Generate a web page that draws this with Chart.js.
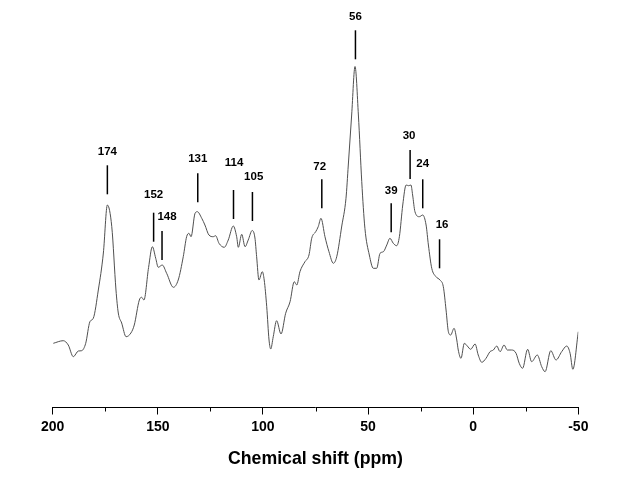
<!DOCTYPE html>
<html>
<head>
<meta charset="utf-8">
<title>Chemical shift spectrum</title>
<script src="https://cdn.jsdelivr.net/npm/chart.js@4/dist/chart.umd.min.js"></script>
<style>
  html, body { margin: 0; padding: 0; background: #fff; }
  #wrap { width: 640px; height: 480px; }
</style>
</head>
<body>
<div id="wrap"><canvas id="spectrum" width="640" height="480"></canvas></div>
<script>
// Spectrum trace: chemical shift (ppm) and intensity (arbitrary units)
const shiftPpm = [
  199.7, 195.0, 192.6, 190.2, 187.8, 186.2, 184.3, 182.3, 180.7, 178.3,
  175.9, 174.0, 171.9, 169.9, 168.8, 167.2, 165.1, 162.8, 161.2, 158.8,
  157.7, 156.6, 154.4, 152.6, 151.0, 149.8, 147.9, 145.8, 142.6, 140.3,
  137.9, 136.3, 135.2, 134.2, 132.3, 131.2, 129.1, 127.6, 125.7, 123.6,
  122.5, 120.9, 118.4, 116.5, 114.1, 112.5, 111.7, 110.1, 108.5, 107.0,
  105.1, 103.8, 103.0, 101.9, 100.3, 99.4, 98.2, 97.1, 96.3, 95.1,
  93.5, 91.4, 89.2, 87.1, 85.1, 83.9, 82.4, 80.0, 78.1, 76.8,
  74.9, 73.7, 72.4, 70.5, 68.6, 66.5, 64.9, 62.5, 60.5, 59.4,
  57.8, 56.2, 54.6, 53.0, 51.5, 49.4, 47.5, 45.9, 44.3, 42.7,
  41.1, 39.6, 38.0, 36.4, 35.1, 33.5, 31.9, 30.7, 29.6, 28.8,
  27.7, 25.6, 24.0, 22.4, 21.3, 19.7, 17.7, 15.8, 14.2, 12.9,
  11.8, 10.7, 9.1, 7.8, 7.1, 5.8, 4.2, 2.8, 1.2, -0.9,
  -2.4, -4.1, -6.1, -8.0, -9.6, -11.2, -12.8, -14.7, -16.2, -18.3,
  -20.4, -21.9, -23.5, -25.9, -27.8, -30.5, -32.6, -34.2, -36.9, -39.4,
  -42.1, -44.5, -46.1, -47.4, -50.0
];
const intensity = [
  64.2, 66.8, 62.5, 50.8, 56.5, 56.8, 64.2, 85.8, 89.2, 117.5,
  154.5, 202.5, 180.8, 117.5, 94.5, 84.5, 70.8, 74.5, 82.5, 107.5,
  110.2, 107.5, 140.0, 160.8, 149.2, 140.2, 142.5, 134.2, 120.2, 127.5,
  150.8, 170.8, 174.2, 170.8, 194.2, 195.8, 189.2, 182.5, 172.5, 170.8,
  171.8, 164.2, 160.2, 167.5, 181.5, 170.8, 160.2, 173.2, 160.8, 167.5,
  177.0, 169.5, 150.8, 127.5, 135.8, 127.5, 100.8, 67.5, 58.5, 70.8,
  86.8, 73.5, 94.2, 105.8, 125.8, 122.5, 135.8, 145.8, 152.5, 169.2,
  175.8, 180.8, 189.2, 170.8, 155.8, 144.2, 150.8, 181.5, 209.2, 242.5,
  292.5, 341.0, 292.5, 225.8, 179.2, 152.5, 139.2, 139.2, 154.2, 155.8,
  162.5, 169.2, 164.2, 161.8, 170.8, 202.5, 222.5, 221.8, 222.5, 212.5,
  195.8, 190.8, 192.5, 182.5, 162.5, 139.2, 130.8, 127.5, 120.8, 97.5,
  75.8, 72.5, 79.2, 67.5, 57.5, 49.2, 64.2, 61.5, 58.2, 63.5,
  52.5, 45.2, 49.2, 55.8, 57.5, 61.5, 55.8, 62.5, 57.5, 57.5,
  54.2, 44.2, 39.2, 58.2, 45.8, 52.5, 40.8, 35.8, 56.8, 47.5,
  55.8, 61.5, 54.2, 38.2, 75.8
];

// Peak assignments: marker position, where the marker starts, and label placement
const peakPpm        = [174, 152, 148, 131, 114, 105, 72, 56, 39, 30, 24, 16];
const peakBase       = [213.2, 165.8, 147.5, 205.2, 188.5, 186.5, 199.2, 348.2, 175.2, 228.5, 199.2, 139.2];
const peakLabelPpm   = [174, 152, 145.6, 131, 113.7, 104.4, 73, 56, 39, 30.5, 24, 14.8];
const peakLabelLevel = [255.8, 212.5, 190.8, 248.2, 244.2, 230.2, 240.8, 390.8, 216.5, 271.8, 243.5, 182.5];

// Axis range and tick spacing
const shiftMin = -50;
const shiftMax = 200;
const majorStep = 50;
const minorStep = 25;

const FONT = '"Liberation Sans", Arial, Helvetica, sans-serif';
const MARKER_LEN = 29;     // length of the peak marker (intensity units = px)

// Minor ticks on the shift axis (the library draws the major ones)
const minorTicks = {
  id: 'minorTicks',
  afterDraw(chart) {
    const x = chart.scales.x;
    const ctx = chart.ctx;
    const y0 = chart.chartArea.bottom;
    ctx.save();
    ctx.strokeStyle = '#000';
    ctx.lineWidth = 1;
    for (let v = shiftMin; v <= shiftMax; v += minorStep) {
      if (v % majorStep === 0) continue;
      const px = Math.round(x.getPixelForValue(v)) + 0.5;
      ctx.beginPath();
      ctx.moveTo(px, y0);
      ctx.lineTo(px, y0 + 4);
      ctx.stroke();
    }
    ctx.restore();
  }
};

// Peak markers with their shift labels
const peakMarkers = {
  id: 'peakMarkers',
  afterDatasetsDraw(chart) {
    const { x, y } = chart.scales;
    const ctx = chart.ctx;
    ctx.save();
    ctx.strokeStyle = '#000';
    ctx.lineWidth = 1.5;
    ctx.fillStyle = '#000';
    ctx.font = 'bold 11.5px ' + FONT;
    ctx.textAlign = 'center';
    ctx.textBaseline = 'middle';
    peakPpm.forEach((p, i) => {
      const px = x.getPixelForValue(p);
      const yBottom = y.getPixelForValue(peakBase[i]);
      const yTop = y.getPixelForValue(peakBase[i] + MARKER_LEN);
      ctx.beginPath();
      ctx.moveTo(px, yBottom);
      ctx.lineTo(px, yTop);
      ctx.stroke();
      const lx = x.getPixelForValue(peakLabelPpm[i]);
      const ly = y.getPixelForValue(peakLabelLevel[i]);
      ctx.fillText(String(p), lx, ly);
    });
    ctx.restore();
  }
};

function createChart() {
  const ctx = document.getElementById('spectrum').getContext('2d');
  const points = shiftPpm.map((s, i) => ({ x: s, y: intensity[i] }));

  return new Chart(ctx, {
    type: 'line',
    data: {
      datasets: [{
        data: points,
        borderColor: '#505050',
        borderWidth: 1,
        pointRadius: 0,
        cubicInterpolationMode: 'monotone',
        fill: false
      }]
    },
    options: {
      responsive: false,
      animation: false,
      layout: { padding: { left: 52.7, right: 61.7, top: 7.5, bottom: 0 } },
      plugins: { legend: { display: false }, tooltip: { enabled: false } },
      scales: {
        x: {
          type: 'linear',
          reverse: true,
          min: shiftMin,
          max: shiftMax,
          afterFit(scale) { scale.height = 72.5; },
          border: { display: true, color: '#000', width: 1 },
          grid: {
            drawOnChartArea: false,
            tickLength: 7,
            tickColor: c => (c.tick && c.tick.value % majorStep === 0) ? '#000' : 'rgba(0,0,0,0)'
          },
          ticks: {
            stepSize: minorStep,
            autoSkip: false,
            maxRotation: 0,
            padding: 4,
            color: '#000',
            font: { family: FONT, size: 14, weight: 'bold' },
            callback: v => (v % majorStep === 0 ? String(v) : '')
          },
          title: {
            display: true,
            text: 'Chemical shift (ppm)',
            color: '#000',
            font: { family: FONT, size: 17.7, weight: 'bold' },
            padding: { top: 0, bottom: 10 }
          }
        },
        y: {
          display: false,
          min: 0,
          max: 400
        }
      }
    },
    plugins: [minorTicks, peakMarkers]
  });
}

window.addEventListener('load', createChart);
</script>
</body>
</html>
